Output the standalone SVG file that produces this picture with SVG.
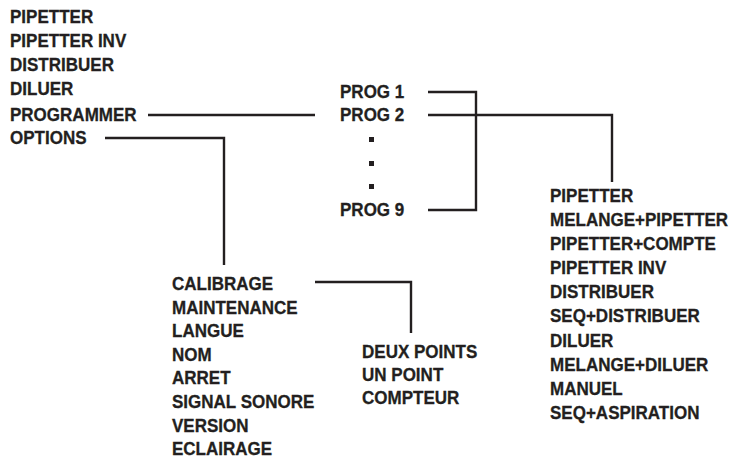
<svg xmlns="http://www.w3.org/2000/svg" width="734" height="458" viewBox="0 0 734 458">
<style>
text{font-family:"Liberation Sans",Arial,sans-serif;font-weight:bold;font-size:18.5px;fill:#231f20;stroke:#231f20;stroke-width:0.3}
.c{fill:none;stroke:#231f20;stroke-width:2.4}
.d{fill:#231f20}
</style>
<rect width="734" height="458" fill="#fff"/>
<g id="main-menu" transform="scale(0.92,1)">
<text x="10.87" y="23">PIPETTER</text>
<text x="10.87" y="47">PIPETTER INV</text>
<text x="10.87" y="71">DISTRIBUER</text>
<text x="10.87" y="95">DILUER</text>
<text x="10.87" y="121">PROGRAMMER</text>
<text x="10.87" y="144">OPTIONS</text>
</g>
<g id="prog-list">
<g transform="scale(0.92,1)">
<text x="369.57" y="98">PROG 1</text>
<text x="369.57" y="121">PROG 2</text>
<text x="369.57" y="216">PROG 9</text>
</g>
<rect class="d" x="369" y="137" width="5" height="5"/>
<rect class="d" x="369" y="161" width="5" height="5"/>
<rect class="d" x="369" y="184" width="5" height="5"/>
</g>
<g id="prog-modes" transform="scale(0.92,1)">
<text x="597.83" y="202">PIPETTER</text>
<text x="597.83" y="226">MELANGE+PIPETTER</text>
<text x="597.83" y="250">PIPETTER+COMPTE</text>
<text x="597.83" y="274">PIPETTER INV</text>
<text x="597.83" y="298">DISTRIBUER</text>
<text x="597.83" y="322">SEQ+DISTRIBUER</text>
<text x="597.83" y="347">DILUER</text>
<text x="597.83" y="371">MELANGE+DILUER</text>
<text x="597.83" y="395">MANUEL</text>
<text x="597.83" y="419">SEQ+ASPIRATION</text>
</g>
<g id="options-list" transform="scale(0.92,1)">
<text x="186.96" y="290">CALIBRAGE</text>
<text x="186.96" y="314">MAINTENANCE</text>
<text x="186.96" y="337">LANGUE</text>
<text x="186.96" y="361">NOM</text>
<text x="186.96" y="384">ARRET</text>
<text x="186.96" y="408">SIGNAL SONORE</text>
<text x="186.96" y="432">VERSION</text>
<text x="186.96" y="455">ECLAIRAGE</text>
</g>
<g id="calibrage-list" transform="scale(0.92,1)">
<text x="393.48" y="358">DEUX POINTS</text>
<text x="393.48" y="381">UN POINT</text>
<text x="393.48" y="404">COMPTEUR</text>
</g>
<g id="connectors">
<path class="c" d="M148 115H315"/>
<path class="c" d="M105 138H224V265"/>
<path class="c" d="M428 92H476V210H428"/>
<path class="c" d="M428 115H612V182"/>
<path class="c" d="M315 282H411V333"/>
</g>
</svg>
